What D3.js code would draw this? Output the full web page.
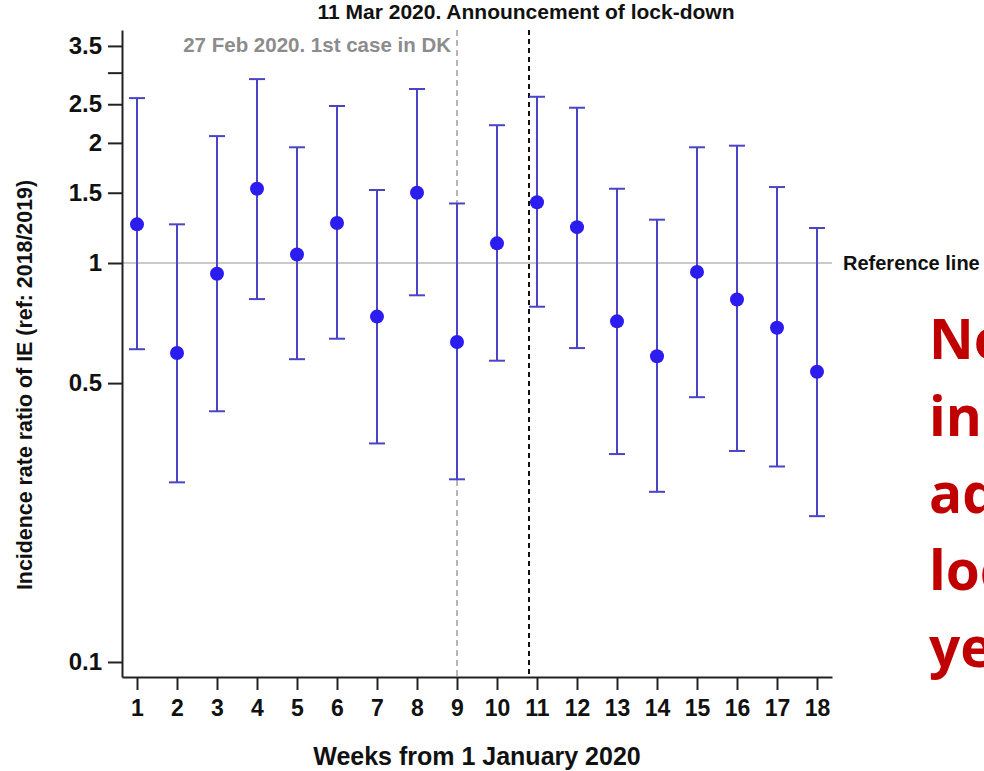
<!DOCTYPE html>
<html>
<head>
<meta charset="UTF-8">
<script src="https://cdn.jsdelivr.net/npm/d3@7"></script>
<style>
body{
    margin:0;
    background-color:#fff;
    font-family:"Liberation Sans", Arial, Helvetica, sans-serif;
}
.axis path, .axis line{
    stroke:#222;
    stroke-width:2;
}
.axis text{
    font-family:"Liberation Sans", Arial, sans-serif;
    font-weight:bold;
    fill:#111;
}
</style>
</head>
<body>
<script>

// week number, incidence rate ratio and 95% CI
var weeks = [1,2,3,4,5,6,7,8,9,10,11,12,13,14,15,16,17,18];
var irr   = [1.25,0.595,0.94,1.535,1.05,1.26,0.734,1.50,0.634,1.12,1.42,1.23,0.714,0.584,0.95,0.81,0.688,0.534];
var lower = [0.608,0.282,0.425,0.812,0.574,0.646,0.353,0.830,0.287,0.569,0.777,0.612,0.332,0.267,0.461,0.338,0.309,0.232];
var upper = [2.59,1.25,2.08,2.89,1.95,2.475,1.524,2.73,1.41,2.215,2.61,2.45,1.535,1.284,1.95,1.968,1.55,1.224];

var yTicks = [0.1,0.5,1,1.5,2,2.5,3,3.5];
var yTickLabels = ["0.1","0.5","1","1.5","2","2.5","","3.5"];

var firstCaseWeek = 9;
var lockdownWeek = 10.8;
var redText = ["No change","in IE","admissions","lockdown","yet"];

var width = 984, height = 771;

var x = d3.scaleLinear().domain([0.625,18.375]).range([122,832]);
var y = d3.scaleLog().domain([0.0917,3.837]).range([677,30]);

var svg = d3.select("body").append("svg")
    .attr("width",width)
    .attr("height",height);

// reference line at IRR = 1
svg.append("line")
    .attr("x1",x.range()[0]).attr("x2",x.range()[1])
    .attr("y1",y(1)).attr("y2",y(1))
    .attr("stroke","#b8b8b8")
    .attr("stroke-width",1.5);

svg.append("text")
    .attr("x",843)
    .attr("y",y(1)+7)
    .attr("font-size",20)
    .attr("font-weight","bold")
    .attr("fill","#111")
    .text("Reference line");

// event lines
svg.append("line")
    .attr("x1",x(firstCaseWeek)).attr("x2",x(firstCaseWeek))
    .attr("y1",y.range()[1]).attr("y2",y.range()[0])
    .attr("stroke","#888")
    .attr("stroke-width",1.2)
    .attr("stroke-dasharray","6,4");

svg.append("line")
    .attr("x1",x(lockdownWeek)).attr("x2",x(lockdownWeek))
    .attr("y1",y.range()[1]).attr("y2",y.range()[0])
    .attr("stroke","#111")
    .attr("stroke-width",2)
    .attr("stroke-dasharray","5,4");

svg.append("text")
    .attr("x",x(firstCaseWeek)-6)
    .attr("y",52)
    .attr("text-anchor","end")
    .attr("font-size",20.5)
    .attr("font-weight","bold")
    .attr("fill","#8c8c8c")
    .text("27 Feb 2020. 1st case in DK");

svg.append("text")
    .attr("x",x(lockdownWeek)-3)
    .attr("y",19)
    .attr("text-anchor","middle")
    .attr("font-size",21)
    .attr("font-weight","bold")
    .attr("fill","#111")
    .text("11 Mar 2020. Announcement of lock-down");

// axes
var yAxis = d3.axisLeft(y)
    .tickValues(yTicks)
    .tickFormat(function(d,i){ return yTickLabels[i]; })
    .tickSize(14)
    .tickSizeOuter(0)
    .tickPadding(6);

var xAxis = d3.axisBottom(x)
    .tickValues(weeks)
    .tickFormat(d3.format("d"))
    .tickSize(13)
    .tickSizeOuter(0)
    .tickPadding(10);

var gY = svg.append("g")
    .attr("class","axis")
    .attr("transform","translate("+x.range()[0]+",0)")
    .call(yAxis);
gY.selectAll("text").attr("font-size",24);

var gX = svg.append("g")
    .attr("class","axis")
    .attr("transform","translate(0,"+y.range()[0]+")")
    .call(xAxis);
gX.selectAll("text").attr("font-size",23);

svg.append("text")
    .attr("x",477)
    .attr("y",765)
    .attr("text-anchor","middle")
    .attr("font-size",25)
    .attr("font-weight","bold")
    .attr("fill","#111")
    .text("Weeks from 1 January 2020");

svg.append("text")
    .attr("transform","translate(32,385) rotate(-90)")
    .attr("text-anchor","middle")
    .attr("font-size",21.4)
    .attr("font-weight","bold")
    .attr("fill","#111")
    .text("Incidence rate ratio of IE (ref: 2018/2019)");

// error bars and points
var rows = weeks.map(function(w,i){ return {week:w, irr:irr[i], lo:lower[i], hi:upper[i]}; });

var bars = svg.selectAll(".bar")
    .data(rows)
    .enter().append("g")
    .attr("class","bar");

bars.append("line")
    .attr("x1",function(d){ return x(d.week); })
    .attr("x2",function(d){ return x(d.week); })
    .attr("y1",function(d){ return y(d.lo); })
    .attr("y2",function(d){ return y(d.hi); })
    .attr("stroke","#4a44c6")
    .attr("stroke-width",2);

bars.append("line")
    .attr("x1",function(d){ return x(d.week)-8; })
    .attr("x2",function(d){ return x(d.week)+8; })
    .attr("y1",function(d){ return y(d.hi); })
    .attr("y2",function(d){ return y(d.hi); })
    .attr("stroke","#4a44c6")
    .attr("stroke-width",2);

bars.append("line")
    .attr("x1",function(d){ return x(d.week)-8; })
    .attr("x2",function(d){ return x(d.week)+8; })
    .attr("y1",function(d){ return y(d.lo); })
    .attr("y2",function(d){ return y(d.lo); })
    .attr("stroke","#4a44c6")
    .attr("stroke-width",2);

bars.append("circle")
    .attr("cx",function(d){ return x(d.week); })
    .attr("cy",function(d){ return y(d.irr); })
    .attr("r",7)
    .attr("fill","#2b1cf0");

// red slide text, runs off the right edge
svg.selectAll(".note")
    .data(redText)
    .enter().append("text")
    .attr("class","note")
    .attr("x",929)
    .attr("y",function(d,i){ return 359 + i*77; })
    .attr("font-family","'Open Sans', 'Noto Sans', sans-serif")
    .attr("font-size",55)
    .attr("font-weight","bold")
    .attr("fill","#c00000")
    .text(function(d){ return d; });

</script>
</body>
</html>
